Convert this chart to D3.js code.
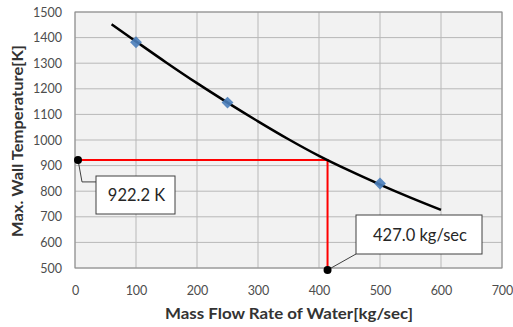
<!DOCTYPE html>
<html>
<head>
<meta charset="utf-8">
<script src="https://cdn.jsdelivr.net/npm/d3@7"></script>
<style>
  body { margin: 0; background: #fff; }
  svg { display: block; }
</style>
</head>
<body>
<svg id="chart" width="513" height="327"></svg>
<script>
const X_TICKS = [0, 100, 200, 300, 400, 500, 600, 700];
const Y_TICKS = [500, 600, 700, 800, 900, 1000, 1100, 1200, 1300, 1400, 1500];

// fitted curve
const CURVE_X = [60, 100, 150, 200, 250, 300, 350, 400, 450, 500, 550, 600];
const CURVE_Y = [1452, 1385, 1302, 1222, 1146, 1073, 1003, 938, 880, 826, 775, 727];

// measured points
const POINT_X = [100, 250, 500];
const POINT_Y = [1382, 1146, 830];

// read-off guide
const GUIDE_X = 414;
const GUIDE_Y = 922.2;
const GUIDE_X_LABEL = "427.0 kg/sec";
const GUIDE_Y_LABEL = "922.2 K";

const svg = d3.select("#chart");
const margin = { top: 12, right: 11, bottom: 59, left: 75 };
const width = 513, height = 327;

const x = d3.scaleLinear().domain([0, 700]).range([margin.left, width - margin.right]);
const y = d3.scaleLinear().domain([500, 1500]).range([height - margin.bottom, margin.top]);

const font = "Lato, 'Open Sans', sans-serif";

// plot background
svg.append("rect")
  .attr("x", x(0)).attr("y", y(1500))
  .attr("width", x(700) - x(0)).attr("height", y(500) - y(1500))
  .attr("fill", "#f2f2f2");

// grid
svg.append("g")
  .selectAll("line")
  .data(X_TICKS)
  .join("line")
  .attr("x1", (d) => x(d)).attr("x2", (d) => x(d))
  .attr("y1", y(500)).attr("y2", y(1500))
  .attr("stroke", "#b8b8b8").attr("stroke-width", 1);

svg.append("g")
  .selectAll("line")
  .data(Y_TICKS)
  .join("line")
  .attr("x1", x(0)).attr("x2", x(700))
  .attr("y1", (d) => y(d)).attr("y2", (d) => y(d))
  .attr("stroke", "#b8b8b8").attr("stroke-width", 1);

svg.append("rect")
  .attr("x", x(0)).attr("y", y(1500))
  .attr("width", x(700) - x(0)).attr("height", y(500) - y(1500))
  .attr("fill", "none").attr("stroke", "#8c8c8c").attr("stroke-width", 1);

// tick labels
const xAxis = svg.append("g")
  .attr("transform", `translate(0,${y(500) + 13})`)
  .call(d3.axisBottom(x).tickValues(X_TICKS).tickFormat(d3.format("d")).tickSize(0).tickPadding(5));
const yAxis = svg.append("g")
  .attr("transform", `translate(${x(0) - 11},0)`)
  .call(d3.axisLeft(y).tickValues(Y_TICKS).tickFormat(d3.format("d")).tickSize(0).tickPadding(2));
[xAxis, yAxis].forEach((a) => {
  a.select(".domain").remove();
  a.selectAll("text")
    .style("font-family", font)
    .style("font-size", "12.5px")
    .attr("fill", "#4d4d4d");
});

// axis titles
svg.append("text")
  .attr("x", 165).attr("y", 319)
  .attr("textLength", 248).attr("lengthAdjust", "spacingAndGlyphs")
  .style("font-family", font).style("font-size", "15.5px").style("font-weight", "bold")
  .attr("fill", "#333")
  .text("Mass Flow Rate of Water[kg/sec]");

svg.append("text")
  .attr("transform", "translate(23,237) rotate(-90)")
  .attr("textLength", 192).attr("lengthAdjust", "spacingAndGlyphs")
  .style("font-family", font).style("font-size", "15.5px").style("font-weight", "bold")
  .attr("fill", "#333")
  .text("Max. Wall Temperature[K]");

// red guide lines
svg.append("path")
  .attr("d", d3.line()([[x(0), y(GUIDE_Y)], [x(GUIDE_X), y(GUIDE_Y)], [x(GUIDE_X), y(500)]]))
  .attr("fill", "none").attr("stroke", "#ff0000").attr("stroke-width", 2);

// curve
const curveData = CURVE_X.map((d, i) => [d, CURVE_Y[i]]);
svg.append("path")
  .datum(curveData)
  .attr("d", d3.line().x((d) => x(d[0])).y((d) => y(d[1])).curve(d3.curveMonotoneX))
  .attr("fill", "none").attr("stroke", "#000").attr("stroke-width", 2.5);

// measured diamonds
svg.append("g")
  .selectAll("path")
  .data(POINT_X.map((d, i) => [d, POINT_Y[i]]))
  .join("path")
  .attr("d", d3.symbol(d3.symbolDiamond2, 90))
  .attr("transform", (d) => `translate(${x(d[0])},${y(d[1])})`)
  .attr("fill", "#4a7ebb")
  .attr("opacity", 0.9);

// callouts
function callout(px, py, path, bx, by, bw, bh, label) {
  svg.append("path")
    .attr("d", d3.line()(path))
    .attr("fill", "none").attr("stroke", "#404040").attr("stroke-width", 1);
  svg.append("rect")
    .attr("x", bx).attr("y", by).attr("width", bw).attr("height", bh)
    .attr("fill", "#fff").attr("stroke", "#404040").attr("stroke-width", 1);
  svg.append("text")
    .attr("x", bx + bw / 2 + 1).attr("y", by + bh / 2 + 6)
    .attr("text-anchor", "middle")
    .style("font-family", font).style("font-size", "16.5px")
    .attr("fill", "#262626")
    .text(label);
  svg.append("circle")
    .attr("cx", px).attr("cy", py).attr("r", 4)
    .attr("fill", "#000");
}

const py0 = y(GUIDE_Y);
callout(x(0) + 3, py0,
  [[x(0) + 3, py0], [x(0) + 7, py0 + 22], [96, py0 + 22]],
  96, 176, 79, 38, GUIDE_Y_LABEL);

const px0 = x(GUIDE_X);
callout(px0, y(500) + 2,
  [[px0, y(500) + 2], [356, 254]],
  356, 215, 126, 39, GUIDE_X_LABEL);
</script>
</body>
</html>
